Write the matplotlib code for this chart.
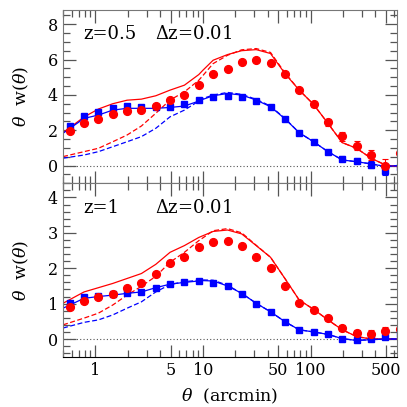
import numpy as np
import matplotlib
matplotlib.use('Agg')
import matplotlib.pyplot as plt
from matplotlib.ticker import FixedLocator, NullFormatter, MultipleLocator

plt.rcParams['font.family'] = 'DejaVu Serif'
plt.rcParams['mathtext.fontset'] = 'dejavuserif'

# angular bins (arcmin)
theta = [0.577, 0.784, 1.066, 1.449, 1.968, 2.676, 3.64, 4.94, 6.72, 9.14,
         12.42, 16.9, 22.9, 31.2, 42.4, 57.7, 78.4, 106.6, 144.9, 196.9,
         267.7, 363.9, 494.7, 672.0]

# model curve sampling (arcmin)
theta_m = [0.5, 0.784, 1.066, 1.449, 1.968, 2.676, 3.64, 4.94, 6.72, 9.14,
           10.0, 12.42, 16.9, 22.9, 31.2, 42.4, 57.7, 78.4, 106.6, 144.9,
           196.9, 267.7, 363.9, 494.7, 640.0]

# ---------------- z = 0.5 ----------------
blue_pts_1 = [2.26, 2.80, 3.03, 3.27, 3.37, 3.33, 3.30, 3.33, 3.46, 3.71,
              3.89, 3.95, 3.89, 3.67, 3.29, 2.65, 1.86, 1.35, 0.76, 0.39,
              0.28, 0.06, -0.28, -0.05]
blue_err_1 = [0.08, 0.06, 0.05, 0.05, 0.05, 0.05, 0.05, 0.05, 0.05, 0.05,
              0.05, 0.05, 0.05, 0.06, 0.07, 0.08, 0.09, 0.10, 0.12, 0.14,
              0.15, 0.18, 0.25, 0.30]
red_pts_1 = [1.96, 2.39, 2.63, 2.90, 3.09, 3.16, 3.35, 3.69, 3.99, 4.57,
             5.17, 5.49, 5.85, 5.98, 5.81, 5.19, 4.27, 3.46, 2.45, 1.66,
             1.13, 0.60, 0.00, 0.70]
red_err_1 = [0.10, 0.08, 0.07, 0.07, 0.07, 0.07, 0.07, 0.07, 0.07, 0.07,
             0.07, 0.07, 0.07, 0.08, 0.09, 0.10, 0.12, 0.15, 0.20, 0.25,
             0.25, 0.30, 0.35, 0.40]
red_solid_1 = [1.86, 2.75, 3.20, 3.50, 3.70, 3.76, 3.95, 4.27, 4.55, 5.15,
               5.40, 5.96, 6.28, 6.50, 6.56, 6.34, 5.21, 4.27, 3.46, 2.39,
               1.30, 0.98, 0.42, 0.04, -0.05]
red_dash_1 = [0.51, 0.79, 0.98, 1.35, 1.73, 2.24, 2.96, 3.71, 4.17, 4.83,
              5.10, 5.77, 6.24, 6.55, 6.62, 6.40, 5.25, 4.27, 3.46, 2.39,
              1.30, 0.98, 0.42, 0.04, -0.05]
blue_solid_1 = [1.83, 2.67, 2.86, 3.14, 3.24, 3.24, 3.24, 3.29, 3.37, 3.65,
                3.75, 3.95, 4.08, 3.99, 3.71, 3.33, 2.65, 1.86, 1.35, 0.79,
                0.32, 0.22, 0.10, -0.05, 0.00]
blue_dash_1 = [0.42, 0.60, 0.79, 1.07, 1.35, 1.64, 2.11, 2.76, 3.14, 3.65,
               3.80, 3.99, 4.14, 4.03, 3.75, 3.37, 2.67, 1.86, 1.35, 0.79,
               0.32, 0.22, 0.10, -0.05, 0.00]

# ---------------- z = 1 ----------------
blue_pts_2 = [1.01, 1.18, 1.21, 1.27, 1.31, 1.33, 1.45, 1.55, 1.60, 1.64,
              1.59, 1.49, 1.26, 0.98, 0.77, 0.48, 0.26, 0.20, 0.13, 0.01,
              -0.04, 0.01, 0.06, 0.14]
blue_err_2 = [0.03, 0.03, 0.02, 0.02, 0.02, 0.02, 0.02, 0.02, 0.02, 0.02,
              0.02, 0.02, 0.02, 0.02, 0.02, 0.03, 0.03, 0.03, 0.04, 0.05,
              0.05, 0.06, 0.07, 0.08]
red_pts_2 = [0.90, 1.08, 1.18, 1.27, 1.45, 1.57, 1.85, 2.15, 2.33, 2.59,
             2.75, 2.77, 2.63, 2.31, 2.01, 1.49, 1.03, 0.82, 0.58, 0.32,
             0.17, 0.15, 0.24, 0.28]
red_err_2 = [0.04, 0.03, 0.03, 0.03, 0.03, 0.03, 0.03, 0.03, 0.03, 0.03,
             0.03, 0.03, 0.03, 0.03, 0.04, 0.04, 0.05, 0.05, 0.06, 0.08,
             0.09, 0.10, 0.11, 0.12]
red_solid_2 = [1.01, 1.33, 1.45, 1.57, 1.71, 1.85, 2.11, 2.45, 2.64, 2.87,
               2.92, 3.04, 3.08, 2.97, 2.64, 2.31, 1.71, 1.10, 0.84, 0.54,
               0.26, 0.07, 0.00, 0.00, 0.00]
red_dash_2 = [0.40, 0.59, 0.73, 0.96, 1.24, 1.49, 1.77, 2.17, 2.45, 2.78,
              2.86, 3.06, 3.12, 3.00, 2.65, 2.31, 1.71, 1.10, 0.84, 0.54,
              0.26, 0.07, 0.00, 0.00, 0.00]
blue_solid_2 = [0.87, 1.15, 1.20, 1.24, 1.29, 1.33, 1.45, 1.55, 1.60, 1.64,
                1.65, 1.64, 1.50, 1.29, 1.01, 0.77, 0.49, 0.26, 0.20, 0.13,
                0.01, -0.04, -0.02, 0.00, 0.00]
blue_dash_2 = [0.31, 0.47, 0.54, 0.68, 0.87, 1.05, 1.33, 1.54, 1.62, 1.66,
               1.67, 1.66, 1.52, 1.29, 1.01, 0.77, 0.49, 0.26, 0.20, 0.13,
               0.01, -0.04, -0.02, 0.00, 0.00]

red = '#ff0000'
blue = '#0000ff'

fig = plt.figure(figsize=(4.07, 4.07), dpi=100)
ax1 = fig.add_axes([0.1548, 0.5496, 0.8206, 0.4258])
ax2 = fig.add_axes([0.1548, 0.1236, 0.8206, 0.4260])

panels = [
    (ax1, blue_pts_1, blue_err_1, red_pts_1, red_err_1, red_solid_1, red_dash_1,
     blue_solid_1, blue_dash_1, (-1, 8.8), 2, 0.5, 'z=0.5', 7.45),
    (ax2, blue_pts_2, blue_err_2, red_pts_2, red_err_2, red_solid_2, red_dash_2,
     blue_solid_2, blue_dash_2, (-0.5, 4.4), 1, 0.2, 'z=1', 3.7),
]

for (ax, bp, be, rp, re, rs, rd, bs, bd, ylim, ymaj, ymin, ztxt, ytxt) in panels:
    ax.axhline(0, color='#555555', ls=(0, (1, 2)), lw=0.8)
    ax.plot(theta_m, rs, '-', color=red, lw=0.9)
    ax.plot(theta_m, rd, '--', color=red, lw=0.9, dashes=(4, 2))
    ax.plot(theta_m, bs, '-', color=blue, lw=0.9)
    ax.plot(theta_m, bd, '--', color=blue, lw=0.9, dashes=(4, 2))
    ax.errorbar(theta, bp, yerr=be, fmt='s', color=blue, ms=4.0, capsize=2,
                elinewidth=0.8, capthick=0.8)
    ax.errorbar(theta, rp, yerr=re, fmt='o', color=red, ms=5.6, capsize=2,
                elinewidth=0.8, capthick=0.8)

    ax.set_xscale('log')
    ax.set_xlim(0.5, 635)
    ax.set_ylim(*ylim)
    ax.yaxis.set_major_locator(MultipleLocator(ymaj))
    ax.yaxis.set_minor_locator(MultipleLocator(ymin))
    ax.xaxis.set_major_locator(FixedLocator([1, 5, 10, 50, 100, 500]))
    minors = [m * 10.0 ** e for e in (-1, 0, 1, 2) for m in range(1, 10)]
    ax.xaxis.set_minor_locator(FixedLocator(minors))
    ax.xaxis.set_minor_formatter(NullFormatter())
    ax.tick_params(which='both', direction='in', top=True, right=True,
                   labelsize=11.5, color='#555555')
    ax.tick_params(which='major', length=9, width=0.9)
    ax.tick_params(which='minor', length=5, width=0.9)
    ax.set_ylabel(r'$\theta$  w($\theta$)', fontsize=12.5)
    ax.yaxis.set_label_coords(-0.095, 0.5)
    for s in ('left', 'right', 'top'):
        ax.spines[s].set_color('#777777')
    ax.spines['bottom'].set_color('black')
    ax.text(0.78, ytxt, ztxt, fontsize=13, va='center')
    ax.text(3.57, ytxt, r'$\Delta$z=0.01', fontsize=13, va='center')

ax1.xaxis.set_major_formatter(NullFormatter())
ax2.set_xticklabels(['1', '5', '10', '50', '100', '500'])
ax2.set_xlabel(r'$\theta$  (arcmin)', fontsize=12.5, labelpad=6)

fig.savefig('out.png', dpi=100)
